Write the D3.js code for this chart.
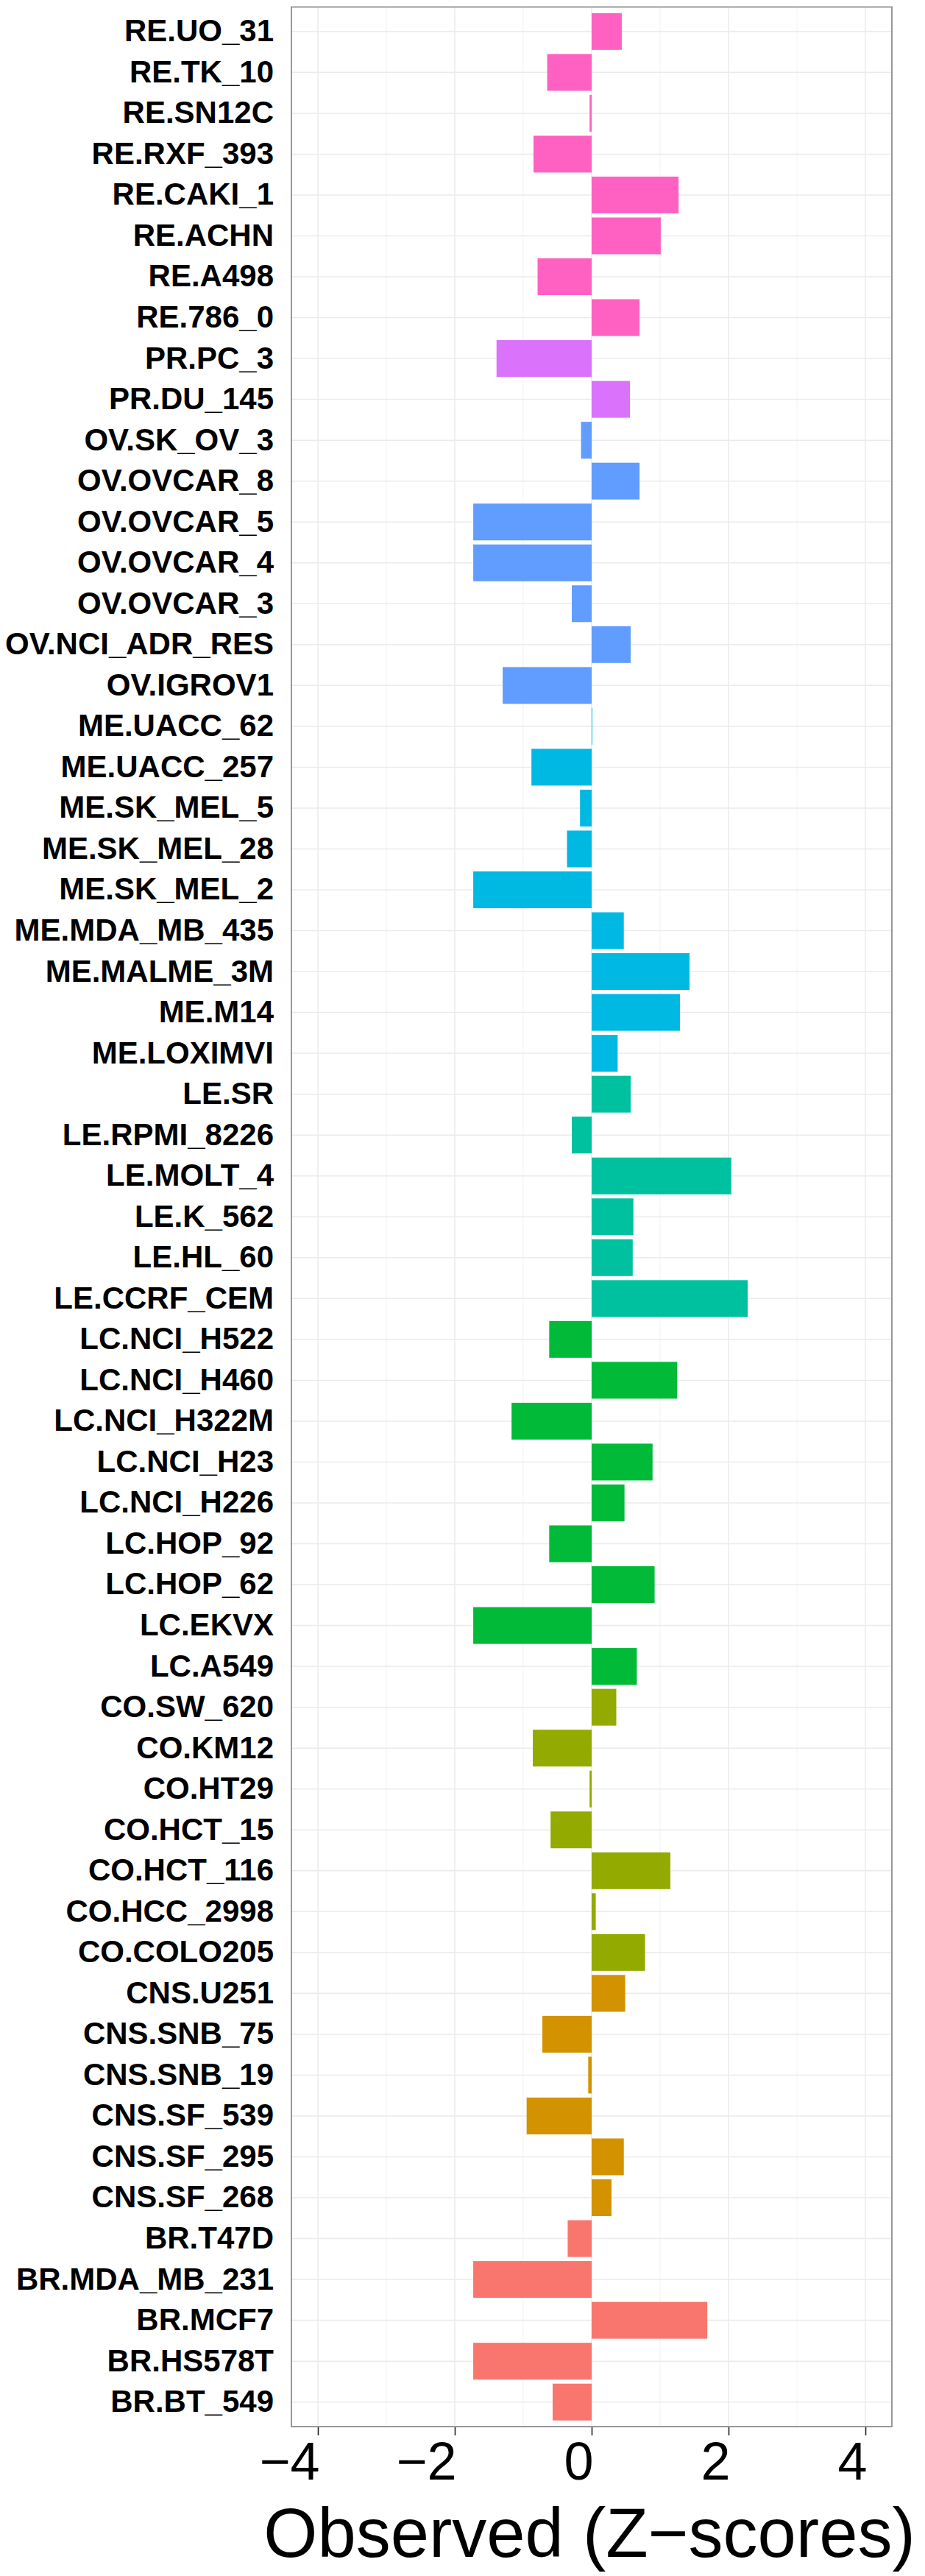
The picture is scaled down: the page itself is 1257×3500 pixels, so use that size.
<!DOCTYPE html>
<html>
<head>
<meta charset="utf-8">
<script src="https://cdn.jsdelivr.net/npm/d3@7"></script>
<style>
  html, body { margin: 0; padding: 0; background: #fff; }
  svg { display: block; }
</style>
</head>
<body>
<div id="chart"></div>
<script>
// ---- data (top-to-bottom order as displayed) ----
const cellLines = [
  "RE.UO_31","RE.TK_10","RE.SN12C","RE.RXF_393","RE.CAKI_1","RE.ACHN","RE.A498","RE.786_0",
  "PR.PC_3","PR.DU_145",
  "OV.SK_OV_3","OV.OVCAR_8","OV.OVCAR_5","OV.OVCAR_4","OV.OVCAR_3","OV.NCI_ADR_RES","OV.IGROV1",
  "ME.UACC_62","ME.UACC_257","ME.SK_MEL_5","ME.SK_MEL_28","ME.SK_MEL_2","ME.MDA_MB_435","ME.MALME_3M","ME.M14","ME.LOXIMVI",
  "LE.SR","LE.RPMI_8226","LE.MOLT_4","LE.K_562","LE.HL_60","LE.CCRF_CEM",
  "LC.NCI_H522","LC.NCI_H460","LC.NCI_H322M","LC.NCI_H23","LC.NCI_H226","LC.HOP_92","LC.HOP_62","LC.EKVX","LC.A549",
  "CO.SW_620","CO.KM12","CO.HT29","CO.HCT_15","CO.HCT_116","CO.HCC_2998","CO.COLO205",
  "CNS.U251","CNS.SNB_75","CNS.SNB_19","CNS.SF_539","CNS.SF_295","CNS.SF_268",
  "BR.T47D","BR.MDA_MB_231","BR.MCF7","BR.HS578T","BR.BT_549"
];
const zScores = [
  0.44,-0.65,-0.03,-0.85,1.27,1.01,-0.79,0.70,
  -1.39,0.56,
  -0.155,0.70,-1.73,-1.73,-0.29,0.57,-1.30,
  0.01,-0.88,-0.17,-0.36,-1.73,0.47,1.43,1.29,0.38,
  0.57,-0.29,2.04,0.61,0.60,2.28,
  -0.62,1.25,-1.17,0.89,0.48,-0.62,0.92,-1.73,0.66,
  0.36,-0.86,-0.03,-0.60,1.15,0.06,0.78,
  0.49,-0.72,-0.05,-0.95,0.47,0.29,
  -0.35,-1.73,1.69,-1.73,-0.57
];
const tissues = ["BR","CNS","CO","LC","LE","ME","OV","PR","RE"];
const tissueColors = ["#F8766D","#D39200","#93AA00","#00BA38","#00C19F","#00B9E3","#619CFF","#DB72FB","#FF61C3"];
const xTicks = [-4, -2, 0, 2, 4];
const xMinor = [-3, -1, 1, 3];
const xDomain = [-4.387, 4.387];
const xTitle = "Observed (Z\u2212scores)";

const data = cellLines.map((c, i) => ({ name: c, value: zScores[i], tissue: c.split(".")[0] }));

// ---- layout ----
const W = 1257, H = 3500;
const panel = { left: 396, right: 1212, top: 9.5, bottom: 3297 };

const svg = d3.select("#chart").append("svg")
  .attr("width", W).attr("height", H)
  .attr("font-family", "'Liberation Sans', Arial, Helvetica, sans-serif");

const x = d3.scaleLinear().domain(xDomain).range([panel.left, panel.right]);
const y = d3.scaleBand().domain(cellLines).range([panel.top, panel.bottom])
  .paddingInner(0.1).paddingOuter(0.15).align(0.5);
const color = d3.scaleOrdinal().domain(tissues).range(tissueColors);

// panel background
svg.append("rect")
  .attr("x", panel.left).attr("y", panel.top)
  .attr("width", panel.right - panel.left).attr("height", panel.bottom - panel.top)
  .attr("fill", "#fff");

// grid
const grid = svg.append("g");
grid.selectAll("line.minor").data(xMinor).join("line")
  .attr("x1", d => x(d)).attr("x2", d => x(d))
  .attr("y1", panel.top).attr("y2", panel.bottom)
  .attr("stroke", "#f1f1f1").attr("stroke-width", 0.9);
grid.selectAll("line.hmaj").data(cellLines).join("line")
  .attr("x1", panel.left).attr("x2", panel.right)
  .attr("y1", d => y(d) + y.bandwidth() / 2).attr("y2", d => y(d) + y.bandwidth() / 2)
  .attr("stroke", "#ebebeb").attr("stroke-width", 1.5);
grid.selectAll("line.vmaj").data(xTicks).join("line")
  .attr("x1", d => x(d)).attr("x2", d => x(d))
  .attr("y1", panel.top).attr("y2", panel.bottom)
  .attr("stroke", "#ebebeb").attr("stroke-width", 1.5);

// bars
svg.append("g").selectAll("rect").data(data).join("rect")
  .attr("x", d => x(Math.min(0, d.value)))
  .attr("width", d => Math.max(0.6, Math.abs(x(d.value) - x(0))))
  .attr("y", d => y(d.name))
  .attr("height", y.bandwidth())
  .attr("fill", d => color(d.tissue));

// border
svg.append("rect")
  .attr("x", panel.left).attr("y", panel.top)
  .attr("width", panel.right - panel.left).attr("height", panel.bottom - panel.top)
  .attr("fill", "none").attr("stroke", "#7f7f7f").attr("stroke-width", 1.6);

// y axis labels (no ticks)
const yAxis = d3.axisLeft(y).tickSize(0).tickPadding(24);
const gy = svg.append("g").attr("transform", `translate(${panel.left},0)`).call(yAxis);
gy.select(".domain").remove();
gy.selectAll("text")
  .attr("font-size", 42).attr("font-weight", "bold").attr("fill", "#000")
  .attr("font-family", "'Liberation Sans', Arial, Helvetica, sans-serif");

// x axis
const xAxis = d3.axisBottom(x).tickValues(xTicks).tickSize(11).tickPadding(9)
  .tickFormat(d => (d < 0 ? "\u2212" + Math.abs(d) : String(d)));
const gx = svg.append("g").attr("transform", `translate(0,${panel.bottom + 1})`).call(xAxis);
gx.select(".domain").remove();
gx.selectAll(".tick line").attr("stroke", "#222").attr("stroke-width", 1.6);
gx.selectAll("text")
  .attr("font-size", 72).attr("fill", "#000")
  .attr("text-anchor", "end")
  .attr("dx", 2)
  .attr("font-family", "'Liberation Sans', Arial, Helvetica, sans-serif");

// x title
svg.append("text")
  .attr("x", (panel.left + panel.right) / 2 - 3)
  .attr("y", 3474)
  .attr("text-anchor", "middle")
  .attr("font-size", 94)
  .attr("fill", "#000")
  .text(xTitle);
</script>
</body>
</html>
